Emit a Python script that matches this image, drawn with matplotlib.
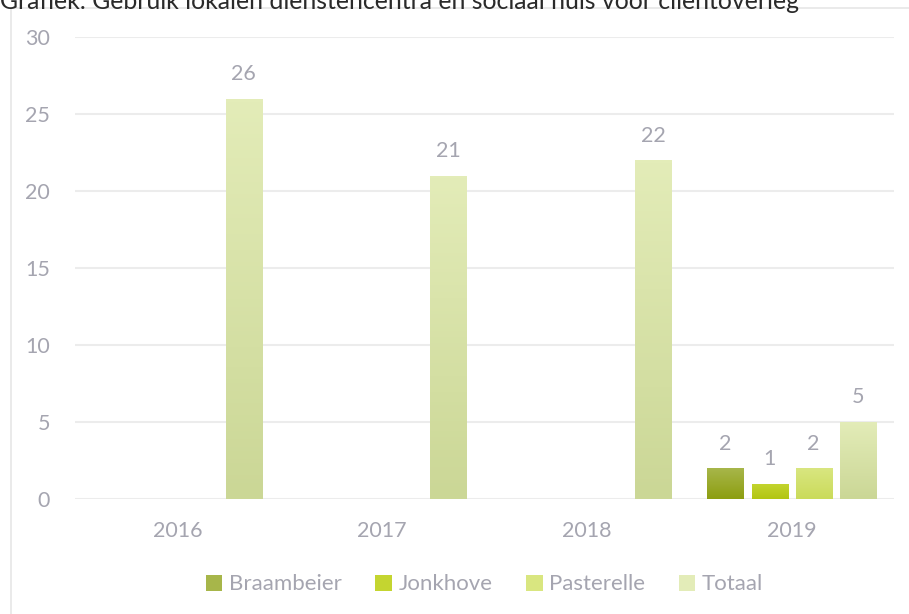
import numpy as np
import matplotlib
matplotlib.use("Agg")
import matplotlib.pyplot as plt
from matplotlib.colors import LinearSegmentedColormap
from matplotlib.patches import Rectangle

plt.rcParams['font.family'] = ['Lato', 'DejaVu Sans']

jaren = ['2016', '2017', '2018', '2019']
reeksen = ['Braambeier', 'Jonkhove', 'Pasterelle', 'Totaal']
braambeier = [None, None, None, 2]
jonkhove = [None, None, None, 1]
pasterelle = [None, None, None, 2]
totaal = [26, 21, 22, 5]
waarden = [braambeier, jonkhove, pasterelle, totaal]

# (boven, onder) kleur per reeks
kleuren = [('#a7b64a', '#8d9e10'),
           ('#c4d530', '#b2c512'),
           ('#d9e680', '#cadb5a'),
           ('#e3ecb8', '#cbd796')]

tekstkleur = '#a5a5b0'
titel = 'Grafiek: Gebruik lokalen dienstencentra en sociaal huis voor cliëntoverleg'

fig = plt.figure(figsize=(9.09, 6.14), dpi=100)
ax = fig.add_axes([75/909, 1 - 499/614, 819/909, 462/614])

# kader rond de grafiek
fig.patches.append(Rectangle((11/909, -0.01), 1.0, 1 - 8/614 + 0.01, transform=fig.transFigure,
                             fill=False, edgecolor='#e6e6e6', linewidth=1.2))
fig.text(0.0, 1 - 9/614, titel, fontsize=17.9, color='#2a2a2a', va='baseline', ha='left')

x = np.arange(len(jaren))
breedte = 0.176
stap = 0.2155

for i, (naam, reeks, (boven, onder)) in enumerate(zip(reeksen, waarden, kleuren)):
    cmap = LinearSegmentedColormap.from_list(naam, [onder, boven])
    ax.bar([0], [0], color=boven, label=naam)  # alleen voor legende
    for j, v in enumerate(reeks):
        if v is None:
            continue
        xpos = x[j] + (i - 1.5) * stap
        bars = ax.bar(xpos, v, breedte, color='none', edgecolor='none')
        grad = np.linspace(0, 1, 100).reshape(-1, 1)
        im = ax.imshow(grad, cmap=cmap, aspect='auto', origin='lower',
                       extent=[xpos - breedte/2, xpos + breedte/2, 0, v], zorder=2)
        im.set_clip_path(bars[0])
        ax.text(xpos, v + 0.95, str(v), ha='center', va='bottom',
                fontsize=15.5, color=tekstkleur)

ax.set_xlim(-0.5, len(jaren) - 0.5)
ax.set_ylim(0, 30)
ax.set_yticks(range(0, 31, 5))
ax.set_xticks(x)
ax.set_xticklabels(jaren)
ax.tick_params(length=0, labelsize=15.5, labelcolor=tekstkleur)
ax.tick_params(axis='y', pad=18)
ax.tick_params(axis='x', pad=16)
ax.grid(axis='y', color='#ececec', linewidth=1.5)
ax.set_axisbelow(True)
for s in ax.spines.values():
    s.set_visible(False)

leg = ax.legend(loc='upper center', bbox_to_anchor=(0.5, -0.12), ncol=4, frameon=False,
                fontsize=16, labelcolor=tekstkleur, handlelength=0.75, handleheight=0.75,
                handletextpad=0.3, columnspacing=1.5)

fig.savefig('out.png', dpi=100)
